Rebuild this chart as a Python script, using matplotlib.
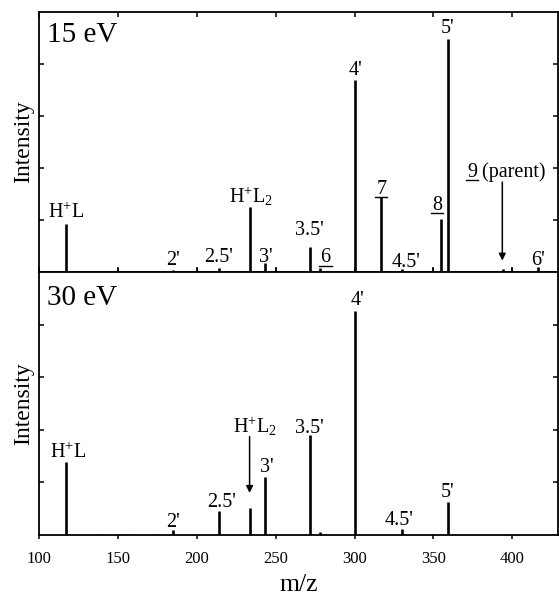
import matplotlib
matplotlib.use("Agg")
import matplotlib.pyplot as plt
from matplotlib.lines import Line2D

plt.rcParams['font.family'] = ['Liberation Serif', 'DejaVu Serif']
plt.rcParams['mathtext.fontset'] = 'custom'
plt.rcParams['mathtext.rm'] = 'Liberation Serif'
plt.rcParams['mathtext.it'] = 'Liberation Serif:italic'
plt.rcParams['mathtext.default'] = 'rm'

# ---- data ----
upper_mz = [117, 138, 185, 214, 233.5, 243, 271.5, 278, 300.5, 316.5, 330, 355, 359, 387, 394, 416.5]
upper_h = [0.92, 0.02, 0.03, 0.08, 1.25, 0.17, 0.48, 0.08, 3.69, 1.44, 0.05, 1.02, 4.48, 0.02, 0.05, 0.10]

lower_mz = [117, 138, 156, 175, 185, 214, 233.5, 243, 271.5, 278, 300.5, 330, 359]
lower_h = [1.39, 0.02, 0.02, 0.02, 0.10, 0.46, 0.51, 1.10, 1.90, 0.05, 4.25, 0.11, 0.63]

x_ticks = [100, 150, 200, 250, 300, 350, 400]
y_ticks = [1, 2, 3, 4]

# label text, x, y, underline
upper_labels = [
    (r'H$^{+}$L', 117, 1.04, False),
    ("2'", 184.8, 0.13, False),
    ("2.5'", 213.9, 0.19, False),
    (r'H$^{+}$L$_{2}$', 234.2, 1.33, False),
    ("3'", 243.7, 0.19, False),
    ("3.5'", 271.5, 0.71, False),
    ("6", 281.6, 0.19, True),
    ("4'", 300.6, 3.79, False),
    ("7", 317.0, 1.50, True),
    ("8", 352.5, 1.20, True),
    ("4.5'", 333.0, 0.10, False),
    ("5'", 358.9, 4.60, False),
    ("6'", 416.5, 0.13, False),
]
lower_labels = [
    (r'H$^{+}$L', 118.4, 1.47, False),
    ("2'", 184.8, 0.15, False),
    ("2.5'", 215.8, 0.53, False),
    (r'H$^{+}$L$_{2}$', 236.7, 1.94, False),
    ("3'", 244.3, 1.20, False),
    ("3.5'", 271.5, 1.94, False),
    ("4'", 301.9, 4.38, False),
    ("4.5'", 328.5, 0.19, False),
    ("5'", 358.9, 0.72, False),
]

fig = plt.figure(figsize=(5.59, 5.95), dpi=100)
L, R = 39 / 559, 558 / 559
ax1 = fig.add_axes([L, 1 - 272 / 595, R - L, 260 / 595])
ax2 = fig.add_axes([L, 1 - 535 / 595, R - L, 263 / 595], sharex=ax1)

lab_fs = 14.5
for ax in (ax1, ax2):
    ax.set_xlim(100, 429)
    ax.set_ylim(0, 5)
    ax.set_xticks(x_ticks)
    ax.set_yticks(y_ticks)
    ax.set_yticklabels([])
    for s in ax.spines.values():
        s.set_linewidth(1.3)
    ax.tick_params(axis='both', which='both', direction='in', top=True, right=True,
                   length=3.5, width=1.1, labelsize=12)
    ax.set_ylabel('Intensity', fontsize=17, labelpad=0)

ax1.tick_params(axis='x', labelbottom=False)
ax2.tick_params(axis='x', which='both', bottom=True, direction='out', length=3, pad=8.5)

ax1.vlines(upper_mz, 0, upper_h, colors='black', linewidth=1.9)
ax2.vlines(lower_mz, 0, lower_h, colors='black', linewidth=1.9)

ax2.set_xlabel('m/z', fontsize=18.5, labelpad=5)

ax1.text(0.015, 0.885, '15 eV', transform=ax1.transAxes, fontsize=21, va='baseline', ha='left')
ax2.text(0.015, 0.875, '30 eV', transform=ax2.transAxes, fontsize=21, va='baseline', ha='left')

underlined = []
for ax, labels in ((ax1, upper_labels), (ax2, lower_labels)):
    for txt, x, y, ul in labels:
        t = ax.text(x, y, txt, fontsize=lab_fs, ha='center', va='baseline')
        if ul:
            underlined.append(t)

# parent label
t9 = ax1.text(374.7, 1.83, '9', fontsize=lab_fs, ha='center', va='baseline')
underlined.append(t9)
ax1.annotate(' (parent)', xy=(1, 0), xycoords=t9, fontsize=lab_fs, ha='left', va='bottom')

arrowprops = dict(arrowstyle='-|>', color='black', lw=1.1, mutation_scale=10, shrinkA=0, shrinkB=0)
ax1.annotate('', xy=(393.7, 0.22), xytext=(393.7, 1.73), arrowprops=arrowprops)
ax2.annotate('', xy=(233.5, 0.80), xytext=(233.5, 1.87), arrowprops=arrowprops)

fig.canvas.draw()
renderer = fig.canvas.get_renderer()
for t in underlined:
    bb = t.get_window_extent(renderer)
    yline = bb.y0 + 1.5
    fig.add_artist(Line2D([bb.x0 - 1, bb.x1 + 1], [yline, yline], transform=None,
                          color='black', lw=1.0))

fig.savefig('out.png', dpi=100)
